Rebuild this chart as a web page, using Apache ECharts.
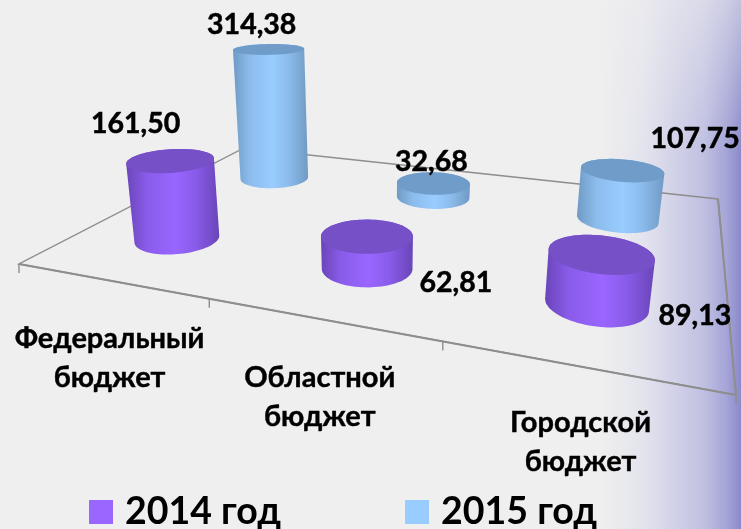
<!DOCTYPE html>
<html><head><meta charset="utf-8">
<style>html,body{margin:0;padding:0;background:#efefef}#c{width:741px;height:529px}</style>
<script src="https://cdn.jsdelivr.net/npm/echarts@6/dist/echarts.min.js"></script>
</head><body><div id="c"></div>
<script>
// ---- data ----
const categories = ['Федеральный\nбюджет', 'Областной\nбюджет', 'Городской\nбюджет'];
const seriesNames = ['2014 год', '2015 год'];
const values2014 = [161.50, 62.81, 89.13];
const values2015 = [314.38, 32.68, 107.75];

// ---- layout of the perspective scene (not data) ----
const FONT = 'Lato, "Open Sans", "Noto Sans", sans-serif';
const GRID = {left: 0, top: 0, width: 300, height: 350};
const VMAX = 350;
// floor plane homography (u,v in 0..1) -> screen, plus a vertical vanishing point
const H = {a: 512.8, b: 347.5, c: 19, d: 21.4, e: -41.7, f: 264, g: -0.2775, h: 0.5021};
const VP = [382, 2600], MU = 0.000213;
const RU = 0.068, RV = 0.097;
const ROW = [0.25, 0.75];
const labelOffset = [[[-35, -37], [89, 47], [94, 62]], [[-17, -24], [-2, -21], [73, -31]]];
const catOffset = [78, 78, 76];

function project(u, v, z) {
  const m = MU * (z || 0);
  const X = H.a * u + H.b * v + H.c - VP[0] * m;
  const Y = H.d * u + H.e * v + H.f - VP[1] * m;
  const W = H.g * u + H.h * v + 1 - m;
  return [X / W, Y / W];
}
function toScene(api, cat, val) {
  const p = api.coord([cat, val]);
  return {u: (p[0] - GRID.left) / GRID.width, z: (GRID.top + GRID.height - p[1]) / GRID.height * VMAX};
}
function hull(pts) {
  const s = pts.slice().sort((a, b) => a[0] - b[0] || a[1] - b[1]);
  const cr = (o, a, b) => (a[0] - o[0]) * (b[1] - o[1]) - (a[1] - o[1]) * (b[0] - o[0]);
  const lo = [], up = [];
  for (const p of s) { while (lo.length > 1 && cr(lo[lo.length - 2], lo[lo.length - 1], p) <= 0) lo.pop(); lo.push(p); }
  for (const p of s.slice().reverse()) { while (up.length > 1 && cr(up[up.length - 2], up[up.length - 1], p) <= 0) up.pop(); up.push(p); }
  return lo.slice(0, -1).concat(up.slice(0, -1));
}
const fmt = v => v.toFixed(2).replace('.', ',');

function cylinder(rowIndex, pal) {
  return function (params, api) {
    const cat = api.value(0), val = api.value(1);
    const {u, z} = toScene(api, cat, val);
    const v = ROW[rowIndex];
    const base = [], top = [];
    for (let i = 0; i < 90; i++) {
      const t = i / 90 * Math.PI * 2;
      const uu = u + RU * Math.cos(t), vv = v + RV * Math.sin(t);
      base.push(project(uu, vv, 0));
      top.push(project(uu, vv, z));
    }
    const body = hull(base.concat(top));
    const xs = body.map(p => p[0]);
    const x0 = Math.min(...xs), x1 = Math.max(...xs);
    const c = project(u, v, z);
    const off = labelOffset[rowIndex][cat];
    return {type: 'group', children: [
      {type: 'polygon', shape: {points: body}, style: {fill: {type: 'linear', x: x0, y: 0, x2: x1, y2: 0, global: true,
        colorStops: [{offset: 0, color: pal.edge}, {offset: 0.22, color: pal.mid}, {offset: 0.52, color: pal.light},
          {offset: 0.74, color: pal.mid}, {offset: 1, color: pal.edge}]}}},
      {type: 'polygon', shape: {points: top}, style: {fill: pal.top}},
      {type: 'text', style: {text: fmt(val), x: c[0] + off[0], y: c[1] + off[1], fill: '#000', stroke: '#000', lineWidth: 0.5,
        fontFamily: FONT, fontWeight: 'bold', fontSize: 28.5, align: 'center', verticalAlign: 'middle'}}
    ]};
  };
}
const violet = {edge: '#6a45b8', mid: '#8a5cea', light: '#9966ff', top: '#7650c6'};
const blue = {edge: '#6f9ac4', mid: '#8cbcec', light: '#99ccff', top: '#6f9cc8'};

const option = {
  animation: false,
  backgroundColor: {type: 'linear', x: 0, y: 0, x2: 1, y2: 0, colorStops: [
    {offset: 0, color: '#efefef'}, {offset: 0.81, color: '#efefef'}, {offset: 0.87, color: '#e3e3ee'},
    {offset: 0.95, color: '#c0c0e2'}, {offset: 0.98, color: '#a5a5d8'}, {offset: 1, color: '#8a8acb'}]},
  grid: {left: GRID.left, top: GRID.top, width: GRID.width, height: GRID.height},
  xAxis: {type: 'category', data: categories, show: false},
  yAxis: {type: 'value', min: 0, max: VMAX, show: false},
  legend: {
    data: seriesNames, left: 84, top: 488, itemWidth: 24, itemHeight: 24, itemGap: 124, icon: 'rect',
    textStyle: {fontFamily: FONT, fontWeight: 'bold', fontSize: 37.5, color: '#000', padding: [0, 0, 0, 7]},
    selectedMode: false
  },
  graphic: [{type: 'rect', z: -1, shape: {x: 600, y: 0, width: 141, height: 150}, silent: true,
    style: {fill: {type: 'linear', x: 0, y: 0, x2: 0, y2: 1, colorStops: [
      {offset: 0, color: 'rgba(239,239,239,0.55)'}, {offset: 1, color: 'rgba(239,239,239,0)'}]}}}],
  series: [
    {type: 'custom', name: 'floor', z: 1, silent: true, data: [[0, 0]], encode: {x: 0, y: 1},
      renderItem: function () {
        const st = {stroke: '#8e8e8e', lineWidth: 1.4, fill: 'none'};
        const quad = [project(0, 0), project(1, 0), project(1, 1), project(0, 1)];
        const kids = [{type: 'polygon', shape: {points: quad}, style: st},
          {type: 'polyline', shape: {points: [quad[0], quad[1], quad[2]]}, style: {stroke: '#8e8e8e', lineWidth: 2, fill: 'none'}}];
        categories.concat(['']).forEach((_, i) => {
          const p = project(i / categories.length, 0);
          kids.push({type: 'line', shape: {x1: p[0], y1: p[1], x2: p[0], y2: p[1] + 9}, style: {stroke: '#8e8e8e', lineWidth: 1.4}});
        });
        return {type: 'group', children: kids};
      }},
    {type: 'custom', name: 'categories', z: 1, silent: true, data: categories.map((c, i) => [i, 0]), encode: {x: 0, y: 1},
      renderItem: function (params, api) {
        const i = api.value(0), s = toScene(api, i, 0), p = project(s.u, 0);
        return {type: 'text', style: {text: categories[i], x: p[0], y: p[1] + catOffset[i], fill: '#000', stroke: '#000', lineWidth: 0.4, lineHeight: 39,
          fontFamily: FONT, fontWeight: 'bold', fontSize: 29, align: 'center', verticalAlign: 'middle'}};
      }},
    {type: 'custom', name: seriesNames[1], z: 2, itemStyle: {color: '#99ccff'}, data: values2015.map((v, i) => [i, v]),
      encode: {x: 0, y: 1}, renderItem: cylinder(1, blue)},
    {type: 'custom', name: seriesNames[0], z: 3, itemStyle: {color: '#9966ff'}, data: values2014.map((v, i) => [i, v]),
      encode: {x: 0, y: 1}, renderItem: cylinder(0, violet)}
  ]
};
echarts.init(document.getElementById('c'), null, {renderer: 'canvas'}).setOption(option);
</script></body></html>
